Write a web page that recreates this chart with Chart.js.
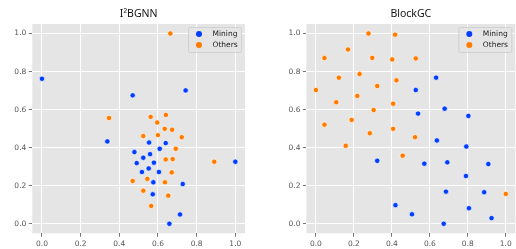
<!DOCTYPE html>
<html>
<head>
<meta charset="utf-8">
<script src="https://cdn.jsdelivr.net/npm/chart.js@4.4.0/dist/chart.umd.min.js"></script>
<style>
  html, body { margin: 0; padding: 0; background: #fff; }
  #wrap { position: relative; width: 516px; height: 249px; overflow: hidden; }
  canvas { position: absolute; top: 0; }
  #c1 { left: 0; }
  #c2 { left: 258px; }
</style>
</head>
<body>
<div id="wrap">
  <canvas id="c1" width="258" height="249"></canvas>
  <canvas id="c2" width="262" height="249"></canvas>
</div>
<script>
// valores
const tickVals = [0, 0.2, 0.4, 0.6, 0.8, 1.0];
const seriesNames = ['Mining', 'Others'];
const seriesColors = ['#023eff', '#ff7c00'];

// I²BGNN
const i2MiningX = [0.0, 0.469, 0.743, 0.338, 0.554, 0.640, 0.609, 0.478, 0.559, 0.524, 1.0, 0.490, 0.579, 0.552, 0.517, 0.605, 0.576, 0.728, 0.573, 0.714, 0.659];
const i2MiningY = [0.762, 0.675, 0.701, 0.433, 0.427, 0.424, 0.394, 0.377, 0.366, 0.347, 0.326, 0.319, 0.321, 0.291, 0.272, 0.272, 0.218, 0.209, 0.155, 0.049, 0.0];
const i2OthersX = [0.664, 0.347, 0.562, 0.641, 0.596, 0.635, 0.673, 0.524, 0.600, 0.723, 0.692, 0.640, 0.676, 0.891, 0.671, 0.545, 0.469, 0.636, 0.524, 0.653, 0.565];
const i2OthersY = [1.0, 0.556, 0.562, 0.572, 0.532, 0.499, 0.494, 0.461, 0.466, 0.455, 0.394, 0.338, 0.340, 0.326, 0.270, 0.236, 0.225, 0.218, 0.174, 0.148, 0.094];

// BlockGC
const bgMiningX = [0.526, 0.633, 0.538, 0.678, 0.803, 0.323, 0.637, 0.792, 0.571, 0.692, 0.908, 0.790, 0.685, 0.886, 0.806, 0.419, 0.506, 0.673, 0.925];
const bgMiningY = [0.703, 0.768, 0.579, 0.605, 0.567, 0.331, 0.438, 0.406, 0.316, 0.323, 0.314, 0.251, 0.169, 0.166, 0.082, 0.098, 0.050, 0.0, 0.030];
const bgOthersX = [0.0, 0.045, 0.045, 0.121, 0.107, 0.169, 0.188, 0.218, 0.230, 0.277, 0.297, 0.304, 0.323, 0.402, 0.417, 0.424, 0.407, 0.526, 0.157, 0.284, 0.407, 0.522, 0.457, 1.0];
const bgOthersY = [0.703, 0.871, 0.521, 0.768, 0.639, 0.916, 0.546, 0.672, 0.787, 1.0, 0.872, 0.598, 0.724, 0.864, 0.994, 0.754, 0.631, 0.869, 0.410, 0.476, 0.499, 0.455, 0.358, 0.157];

const FONT = 'DejaVu Sans';

function pares(xs, ys) {
  return xs.map((x, i) => ({ x: x, y: ys[i] }));
}

// fundo cinza da área do gráfico
const fundoPlugin = {
  id: 'fundo',
  beforeDraw(chart) {
    const a = chart.chartArea;
    const ctx = chart.ctx;
    ctx.save();
    ctx.fillStyle = '#e5e5e5';
    ctx.fillRect(a.left, a.top, a.right - a.left, a.bottom - a.top);
    ctx.restore();
  }
};

// legenda dentro do gráfico, canto superior direito
const legendaPlugin = {
  id: 'legendaDentro',
  afterDraw(chart) {
    const a = chart.chartArea;
    const ctx = chart.ctx;
    const w = 53, h = 25;
    const x0 = a.right - 4 - w, y0 = a.top + 3;
    ctx.save();
    ctx.fillStyle = 'rgba(229,229,229,0.85)';
    ctx.strokeStyle = '#cccccc';
    ctx.lineWidth = 0.8;
    ctx.beginPath();
    ctx.roundRect(x0 + 0.5, y0 + 0.5, w, h, 2);
    ctx.fill();
    ctx.stroke();
    ctx.font = '7.5px "' + FONT + '"';
    ctx.textBaseline = 'middle';
    chart.data.datasets.forEach((ds, i) => {
      const cy = y0 + 7 + i * 11;
      ctx.beginPath();
      ctx.arc(x0 + 11, cy, 3, 0, Math.PI * 2);
      ctx.fillStyle = ds.backgroundColor;
      ctx.fill();
      ctx.fillStyle = '#222';
      ctx.fillText(ds.label, x0 + 24.5, cy);
    });
    ctx.restore();
  }
};

function criarGrafico(id, titulo, mx, my, ox, oy, larguraY, padDireita) {
  const ctx = document.getElementById(id).getContext('2d');
  const eixo = (isY) => ({
    type: 'linear',
    min: -0.05,
    max: 1.05,
    border: { display: false },
    grid: { color: '#ffffff', lineWidth: 1, drawTicks: true, tickLength: 3.5, tickColor: '#555555', tickWidth: 0.8 },
    ticks: {
      color: '#555555',
      padding: 2.5,
      font: { family: FONT, size: 7.5 },
      callback: (v) => v.toFixed(1)
    },
    afterBuildTicks: (scale) => { scale.ticks = tickVals.map(v => ({ value: v })); },
    afterFit: (scale) => {
      if (isY) scale.width = larguraY;
      else scale.height = 15.7;
    }
  });

  const serie = (i, xs, ys) => ({
    label: seriesNames[i],
    data: pares(xs, ys),
    backgroundColor: seriesColors[i],
    borderColor: '#ffffff',
    borderWidth: 0.7,
    pointRadius: 2.7
  });

  return new Chart(ctx, {
    type: 'scatter',
    data: {
      datasets: [serie(0, mx, my), serie(1, ox, oy)]
    },
    options: {
      responsive: false,
      animation: false,
      devicePixelRatio: 1,
      layout: { padding: { left: 0, right: padDireita, top: 0, bottom: 0 } },
      plugins: {
        legend: { display: false },
        tooltip: { enabled: false },
        title: {
          display: true,
          text: titulo,
          fullSize: false,
          color: '#111111',
          font: { family: 'Noto Sans', size: 10.5, weight: 'normal', lineHeight: 1.2 },
          padding: { top: 7.5, bottom: 3.9 }
        }
      },
      scales: {
        x: eixo(false),
        y: eixo(true)
      }
    },
    plugins: [fundoPlugin, legendaPlugin]
  });
}

criarGrafico('c1', 'I²BGNN', i2MiningX, i2MiningY, i2OthersX, i2OthersY, 32.3, 13);
criarGrafico('c2', 'BlockGC', bgMiningX, bgMiningY, bgOthersX, bgOthersY, 48.4, 1.7);
</script>
</body>
</html>
